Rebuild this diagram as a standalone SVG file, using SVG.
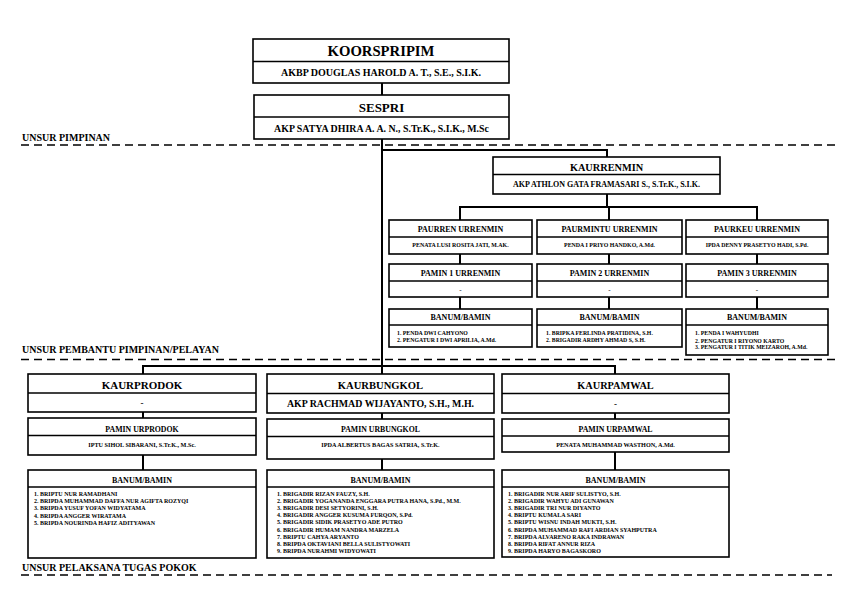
<svg xmlns="http://www.w3.org/2000/svg" width="842" height="595" viewBox="0 0 842 595">
<style>
.bg{fill:#fff}
.box{fill:#fff;stroke:#000;stroke-width:1.6}
.dv{stroke:#000;stroke-width:1.5}
.conn{stroke:#000;stroke-width:2;fill:none}
.dash{stroke:#000;stroke-width:1.5;stroke-dasharray:8 5;fill:none}
text{font-family:"Liberation Serif","Times New Roman",serif;font-weight:bold;fill:#000}
.c{text-anchor:middle}
.sec{font-size:10px}
.list{font-size:5.8px}
.listb{font-size:6px}
</style>
<rect class="bg" x="0" y="0" width="842" height="595"/>

<!-- section labels and dashed separators -->
<g id="sections">
  <text class="sec" x="22" y="140.5">UNSUR PIMPINAN</text>
  <line class="dash" x1="21" y1="145" x2="838" y2="145"/>
  <text class="sec" x="22" y="353">UNSUR PEMBANTU PIMPINAN/PELAYAN</text>
  <line class="dash" x1="21" y1="359.5" x2="838" y2="359.5"/>
  <text class="sec" x="22" y="571">UNSUR PELAKSANA TUGAS POKOK</text>
  <line class="dash" x1="21" y1="575" x2="832" y2="575"/>
</g>

<!-- connectors -->
<g id="connectors">
  <line class="conn" x1="382" y1="83" x2="382" y2="95"/>
  <line class="conn" x1="382" y1="139" x2="382" y2="374"/>
  <polyline class="conn" points="382,150 607,150 607,157"/>
  <line class="conn" x1="607" y1="194" x2="607" y2="207"/>
  <polyline class="conn" points="460,220 460,207 757,207 757,220"/>
  <line class="conn" x1="609" y1="207" x2="609" y2="220"/>
  <line class="conn" x1="460" y1="254" x2="460" y2="264"/>
  <line class="conn" x1="609" y1="254" x2="609" y2="264"/>
  <line class="conn" x1="757" y1="254" x2="757" y2="264"/>
  <line class="conn" x1="460" y1="297" x2="460" y2="309"/>
  <line class="conn" x1="609" y1="297" x2="609" y2="309"/>
  <line class="conn" x1="757" y1="297" x2="757" y2="309"/>
  <polyline class="conn" points="143,374 143,366 615,366 615,374"/>
  <line class="conn" x1="143" y1="412" x2="143" y2="418"/>
  <line class="conn" x1="382" y1="413" x2="382" y2="419"/>
  <line class="conn" x1="615" y1="413" x2="615" y2="419"/>
  <line class="conn" x1="143" y1="455" x2="143" y2="470"/>
  <line class="conn" x1="382" y1="459" x2="382" y2="470"/>
  <line class="conn" x1="615" y1="452" x2="615" y2="470"/>
</g>

<g id="koorspripim">
  <rect class="box" x="253" y="39" width="256" height="44"/>
  <line class="dv" x1="253" y1="61.5" x2="509" y2="61.5"/>
  <text class="c" x="381" y="56" font-size="14.7">KOORSPRIPIM</text>
  <text class="c" x="381" y="75.5" font-size="10">AKBP DOUGLAS HAROLD A. T., S.E., S.I.K.</text>
</g>

<g id="sespri">
  <rect class="box" x="254" y="95" width="255" height="44"/>
  <line class="dv" x1="254" y1="117" x2="509" y2="117"/>
  <text class="c" x="381.5" y="112" font-size="13">SESPRI</text>
  <text class="c" x="381.5" y="131.5" font-size="9.9">AKP SATYA DHIRA A. A. N., S.Tr.K., S.I.K., M.Sc</text>
</g>

<g id="kaurrenmin">
  <rect class="box" x="493" y="157" width="227" height="37"/>
  <line class="dv" x1="493" y1="174.5" x2="720" y2="174.5"/>
  <text class="c" x="606.5" y="170.5" font-size="10.3">KAURRENMIN</text>
  <text class="c" x="606.5" y="187" font-size="8">AKP ATHLON GATA FRAMASARI S., S.Tr.K., S.I.K.</text>
</g>

<g id="paurren">
  <rect class="box" x="389" y="220" width="143" height="34"/>
  <line class="dv" x1="389" y1="237" x2="532" y2="237"/>
  <text class="c" x="460.5" y="232" font-size="8">PAURREN URRENMIN</text>
  <text class="c" x="460.5" y="247" font-size="5.9">PENATA LUSI ROSITA JATI, M.AK.</text>
</g>
<g id="paurmintu">
  <rect class="box" x="537" y="220" width="145" height="34"/>
  <line class="dv" x1="537" y1="237" x2="682" y2="237"/>
  <text class="c" x="609.5" y="232" font-size="8">PAURMINTU URRENMIN</text>
  <text class="c" x="609.5" y="247" font-size="5.9">PENDA I PRIYO HANDKO, A.Md.</text>
</g>
<g id="paurkeu">
  <rect class="box" x="686" y="220" width="142" height="34"/>
  <line class="dv" x1="686" y1="237" x2="828" y2="237"/>
  <text class="c" x="757" y="232" font-size="8">PAURKEU URRENMIN</text>
  <text class="c" x="757" y="247" font-size="5.9">IPDA DENNY PRASETYO HADI, S.Pd.</text>
</g>

<g id="pamin1">
  <rect class="box" x="389" y="264" width="143" height="33"/>
  <line class="dv" x1="389" y1="281" x2="532" y2="281"/>
  <text class="c" x="460.5" y="276" font-size="8">PAMIN 1 URRENMIN</text>
  <text class="c" x="460.5" y="291.5" font-size="7">-</text>
</g>
<g id="pamin2">
  <rect class="box" x="537" y="264" width="145" height="33"/>
  <line class="dv" x1="537" y1="281" x2="682" y2="281"/>
  <text class="c" x="609.5" y="276" font-size="8">PAMIN 2 URRENMIN</text>
  <text class="c" x="609.5" y="291.5" font-size="7">-</text>
</g>
<g id="pamin3">
  <rect class="box" x="686" y="264" width="142" height="33"/>
  <line class="dv" x1="686" y1="281" x2="828" y2="281"/>
  <text class="c" x="757" y="276" font-size="8">PAMIN 3 URRENMIN</text>
  <text class="c" x="757" y="291.5" font-size="7">-</text>
</g>

<g id="banum1">
  <rect class="box" x="389" y="309" width="143" height="38"/>
  <line class="dv" x1="389" y1="325" x2="532" y2="325"/>
  <text class="c" x="460.5" y="319.5" font-size="8">BANUM/BAMIN</text>
  <text class="list" x="397" y="335">1. PENDA DWI CAHYONO</text>
  <text class="list" x="397" y="341.5">2. PENGATUR I DWI APRILIA, A.Md.</text>
</g>
<g id="banum2">
  <rect class="box" x="537" y="309" width="145" height="38"/>
  <line class="dv" x1="537" y1="325" x2="682" y2="325"/>
  <text class="c" x="609.5" y="319.5" font-size="8">BANUM/BAMIN</text>
  <text class="list" x="546" y="335">1. BRIPKA FERLINDA PRATIDINA, S.H.</text>
  <text class="list" x="546" y="341.5">2. BRIGADIR ARDHY AHMAD S, S.H.</text>
</g>
<g id="banum3">
  <rect class="box" x="686" y="309" width="142" height="46"/>
  <line class="dv" x1="686" y1="325" x2="828" y2="325"/>
  <text class="c" x="757" y="319.5" font-size="8">BANUM/BAMIN</text>
  <text class="list" x="695" y="335">1. PENDA I WAHYUDHI</text>
  <text class="list" x="695" y="342.5">2. PENGATUR I RIYONO KARTO</text>
  <text class="list" x="695" y="348.5">3. PENGATUR I TITIK MEIZAROH, A.Md.</text>
</g>

<g id="kaurprodok">
  <rect class="box" x="28" y="374" width="228" height="38"/>
  <line class="dv" x1="28" y1="393" x2="256" y2="393"/>
  <text class="c" x="142" y="389" font-size="11">KAURPRODOK</text>
  <text class="c" x="142" y="406" font-size="9">-</text>
</g>
<g id="kaurbungkol">
  <rect class="box" x="267" y="374" width="227" height="39"/>
  <line class="dv" x1="267" y1="393.5" x2="494" y2="393.5"/>
  <text class="c" x="380.5" y="388.5" font-size="10.6">KAURBUNGKOL</text>
  <text class="c" x="380.5" y="407" font-size="9.9">AKP RACHMAD WIJAYANTO, S.H., M.H.</text>
</g>
<g id="kaurpamwal">
  <rect class="box" x="502" y="374" width="227" height="39"/>
  <line class="dv" x1="502" y1="393.5" x2="729" y2="393.5"/>
  <text class="c" x="615.5" y="389" font-size="10.3">KAURPAMWAL</text>
  <text class="c" x="615.5" y="407" font-size="9">-</text>
</g>

<g id="pamin-urprodok">
  <rect class="box" x="28" y="418" width="228" height="37"/>
  <line class="dv" x1="28" y1="435.5" x2="256" y2="435.5"/>
  <text class="c" x="142" y="431.5" font-size="7.8">PAMIN URPRODOK</text>
  <text class="c" x="142" y="446.5" font-size="6.2">IPTU SIHOL SIBARANI, S.Tr.K., M.Sc.</text>
</g>
<g id="pamin-urbungkol">
  <rect class="box" x="267" y="419" width="227" height="40"/>
  <line class="dv" x1="267" y1="436.5" x2="494" y2="436.5"/>
  <text class="c" x="380.5" y="432" font-size="7.8">PAMIN URBUNGKOL</text>
  <text class="c" x="380.5" y="447" font-size="6.2">IPDA ALBERTUS BAGAS SATRIA, S.Tr.K.</text>
</g>
<g id="pamin-urpamwal">
  <rect class="box" x="502" y="419" width="227" height="33"/>
  <line class="dv" x1="502" y1="436" x2="729" y2="436"/>
  <text class="c" x="615.5" y="431.5" font-size="7.8">PAMIN URPAMWAL</text>
  <text class="c" x="615.5" y="446.5" font-size="6.2">PENATA MUHAMMAD WASTHON, A.Md.</text>
</g>

<g id="banum-prodok">
  <rect class="box" x="28" y="470" width="228" height="88"/>
  <line class="dv" x1="28" y1="487" x2="256" y2="487"/>
  <text class="c" x="142" y="482.5" font-size="8">BANUM/BAMIN</text>
  <text class="listb" x="34" y="496">1. BRIPTU NUR RAMADHANI</text>
  <text class="listb" x="34" y="503.2">2. BRIPDA MUHAMMAD DAFFA NUR AGIFTA ROZYQI</text>
  <text class="listb" x="34" y="510.4">3. BRIPDA YUSUF YOFAN WIDYATAMA</text>
  <text class="listb" x="34" y="517.6">4. BRIPDA ANGGER WIRATAMA</text>
  <text class="listb" x="34" y="524.8">5. BRIPDA NOURINDA HAFIZ ADITYAWAN</text>
</g>
<g id="banum-bungkol">
  <rect class="box" x="267" y="470" width="227" height="88"/>
  <line class="dv" x1="267" y1="487" x2="494" y2="487"/>
  <text class="c" x="380.5" y="482.5" font-size="8">BANUM/BAMIN</text>
  <text class="listb" x="277" y="496">1. BRIGADIR RIZAN FAUZY, S.H.</text>
  <text class="listb" x="277" y="503.1">2. BRIGADIR YOGANANDA ENGGARA PUTRA HANA, S.Pd., M.M.</text>
  <text class="listb" x="277" y="510.2">3. BRIGADIR DESI SETYORINI, S.H.</text>
  <text class="listb" x="277" y="517.3">4. BRIGADIR ANGGER KUSUMA FURQON, S.Pd.</text>
  <text class="listb" x="277" y="524.4">5. BRIGADIR SIDIK PRASETYO ADE PUTRO</text>
  <text class="listb" x="277" y="531.5">6. BRIGADIR HUMAM NANDRA MARZELA</text>
  <text class="listb" x="277" y="538.6">7. BRIPTU CAHYA ARYANTO</text>
  <text class="listb" x="277" y="545.7">8. BRIPDA OKTAVIANI BELLA SULISTYOWATI</text>
  <text class="listb" x="277" y="552.8">9. BRIPDA NURAHMI WIDYOWATI</text>
</g>
<g id="banum-pamwal">
  <rect class="box" x="502" y="470" width="227" height="87"/>
  <line class="dv" x1="502" y1="487" x2="729" y2="487"/>
  <text class="c" x="615.5" y="482.5" font-size="8">BANUM/BAMIN</text>
  <text class="listb" x="508" y="496">1. BRIGADIR NUR ARIF SULISTYO, S.H.</text>
  <text class="listb" x="508" y="503.1">2. BRIGADIR WAHYU ADI GUNAWAN</text>
  <text class="listb" x="508" y="510.2">3. BRIGADIR TRI NUR DIYANTO</text>
  <text class="listb" x="508" y="517.3">4. BRIPTU KUMALA SARI</text>
  <text class="listb" x="508" y="524.4">5. BRIPTU WISNU INDAH MUKTI, S.H.</text>
  <text class="listb" x="508" y="531.5">6. BRIPDA MUHAMMAD RAFI ARDIAN SYAHPUTRA</text>
  <text class="listb" x="508" y="538.6">7. BRIPDA ALVARENO RAKA INDRAWAN</text>
  <text class="listb" x="508" y="545.7">8. BRIPDA RIFAT ANNUR RIZA</text>
  <text class="listb" x="508" y="552.8">9. BRIPDA HARYO BAGASKORO</text>
</g>
</svg>
